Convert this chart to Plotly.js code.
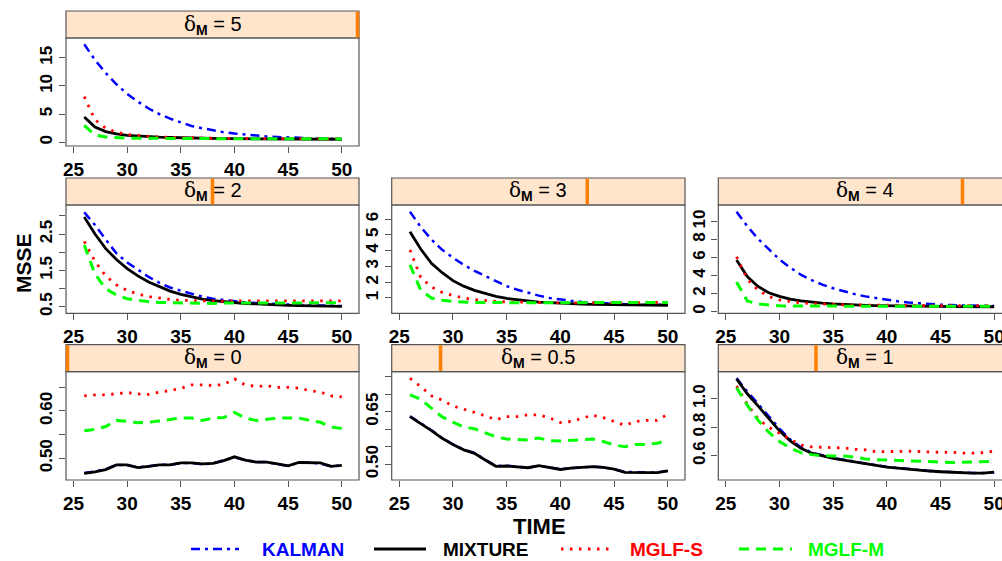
<!DOCTYPE html>
<html><head><meta charset="utf-8">
<script src="https://cdn.plot.ly/plotly-3.0.1.min.js"></script>
<style>html,body{margin:0;padding:0;background:#fff}#chart{width:1002px;height:561px}</style>
</head><body><div id="chart"></div>
<script>
// ---------------- DATA ----------------
const time = [26,27,28,29,30,31,32,33,34,35,36,37,38,39,40,41,42,43,44,45,46,47,48,49,50];
const seriesNames = ['KALMAN','MIXTURE','MGLF-S','MGLF-M'];
const panelLevels = ['5','2','3','4','0','0.5','1'];
const levelOrder = ['0','0.5','1','2','3','4','5'];
const xTickVals = [25,30,35,40,45,50];

// delta_M = 5
const kalman_d5  = [17.4,14.6,12.3,10.3,8.6,7.2,6.0,5.0,4.2,3.5,2.9,2.5,2.1,1.8,1.55,1.35,1.2,1.05,0.95,0.85,0.8,0.72,0.66,0.62,0.58];
const mixture_d5 = [4.5,2.7,1.9,1.5,1.25,1.1,1.0,0.92,0.86,0.8,0.76,0.72,0.69,0.66,0.64,0.62,0.6,0.59,0.58,0.57,0.56,0.56,0.55,0.55,0.55];
const mglfS_d5   = [8.1,4.0,2.5,1.8,1.4,1.2,1.05,0.95,0.88,0.82,0.78,0.75,0.72,0.7,0.68,0.67,0.66,0.65,0.65,0.64,0.64,0.63,0.63,0.63,0.63];
const mglfM_d5   = [3.0,1.3,0.95,0.82,0.76,0.72,0.7,0.68,0.67,0.66,0.65,0.65,0.64,0.64,0.63,0.63,0.63,0.62,0.62,0.62,0.62,0.61,0.61,0.61,0.61];
// delta_M = 2
const kalman_d2  = [3.10,2.75,2.35,1.97,1.72,1.52,1.32,1.16,1.03,0.94,0.85,0.78,0.72,0.68,0.65,0.62,0.60,0.58,0.57,0.56,0.55,0.54,0.53,0.52,0.52];
const mixture_d2 = [2.97,2.50,2.10,1.80,1.55,1.35,1.18,1.05,0.93,0.84,0.77,0.71,0.67,0.64,0.61,0.59,0.58,0.56,0.55,0.54,0.53,0.52,0.52,0.51,0.51];
const mglfS_d2   = [2.30,1.75,1.35,1.10,0.95,0.85,0.78,0.73,0.70,0.68,0.67,0.66,0.66,0.65,0.66,0.66,0.65,0.66,0.66,0.65,0.66,0.66,0.65,0.66,0.66];
const mglfM_d2   = [2.20,1.40,1.00,0.82,0.72,0.67,0.64,0.62,0.61,0.60,0.60,0.60,0.59,0.60,0.60,0.59,0.60,0.60,0.60,0.59,0.60,0.60,0.60,0.60,0.61];
// delta_M = 3
const kalman_d3  = [6.46,5.5,4.7,4.05,3.55,3.1,2.72,2.38,2.05,1.75,1.52,1.32,1.15,1.0,0.9,0.82,0.75,0.7,0.66,0.63,0.61,0.59,0.58,0.57,0.56];
const mixture_d3 = [5.2,4.1,3.2,2.6,2.1,1.75,1.48,1.27,1.1,0.97,0.88,0.8,0.74,0.7,0.66,0.63,0.61,0.59,0.58,0.57,0.56,0.55,0.55,0.54,0.54];
const mglfS_d3   = [4.04,2.3,1.7,1.35,1.15,1.0,0.9,0.83,0.78,0.75,0.73,0.71,0.7,0.7,0.69,0.69,0.69,0.7,0.69,0.7,0.7,0.69,0.7,0.71,0.72];
const mglfM_d3   = [3.1,1.5,1.0,0.85,0.78,0.74,0.72,0.71,0.7,0.7,0.7,0.69,0.7,0.7,0.7,0.71,0.7,0.7,0.71,0.7,0.71,0.71,0.72,0.72,0.72];
// delta_M = 4
const kalman_d4  = [11.1,9.5,8.1,6.9,5.8,4.9,4.1,3.5,3.0,2.6,2.25,1.95,1.7,1.5,1.3,1.15,1.02,0.92,0.84,0.78,0.73,0.69,0.66,0.64,0.62];
const mixture_d4 = [5.74,3.9,2.8,2.1,1.7,1.4,1.2,1.05,0.95,0.87,0.8,0.75,0.71,0.68,0.65,0.63,0.61,0.6,0.59,0.58,0.57,0.56,0.56,0.55,0.55];
const mglfS_d4   = [6.1,3.6,2.4,1.7,1.3,1.1,0.98,0.9,0.84,0.8,0.77,0.75,0.73,0.72,0.71,0.7,0.69,0.69,0.68,0.68,0.67,0.67,0.66,0.66,0.66];
const mglfM_d4   = [3.3,1.2,0.85,0.72,0.66,0.63,0.62,0.61,0.6,0.6,0.6,0.6,0.6,0.59,0.6,0.6,0.6,0.6,0.59,0.6,0.6,0.6,0.6,0.6,0.6];
// delta_M = 0
const kalman_d0  = [0.469,0.472,0.477,0.486,0.485,0.481,0.483,0.486,0.486,0.490,0.490,0.487,0.489,0.495,0.502,0.496,0.492,0.492,0.487,0.484,0.491,0.491,0.489,0.483,0.485];
const mixture_d0 = [0.468,0.471,0.476,0.486,0.486,0.480,0.483,0.486,0.486,0.490,0.490,0.488,0.489,0.495,0.503,0.496,0.492,0.492,0.488,0.484,0.491,0.491,0.490,0.483,0.485];
const mglfS_d0   = [0.632,0.634,0.634,0.637,0.639,0.636,0.635,0.640,0.643,0.648,0.655,0.655,0.654,0.656,0.668,0.655,0.652,0.653,0.650,0.650,0.648,0.643,0.640,0.632,0.630];
const mglfM_d0   = [0.558,0.561,0.567,0.580,0.578,0.575,0.576,0.579,0.581,0.585,0.585,0.580,0.585,0.586,0.597,0.585,0.580,0.583,0.585,0.585,0.585,0.580,0.576,0.566,0.563];
// delta_M = 0.5
const kalman_d05  = [0.637,0.618,0.597,0.575,0.557,0.542,0.532,0.513,0.495,0.496,0.493,0.490,0.496,0.491,0.486,0.489,0.492,0.493,0.491,0.486,0.478,0.477,0.476,0.476,0.481];
const mixture_d05 = [0.636,0.617,0.596,0.574,0.556,0.541,0.531,0.512,0.494,0.495,0.493,0.490,0.496,0.490,0.485,0.489,0.492,0.493,0.491,0.486,0.477,0.477,0.475,0.476,0.481];
const mglfS_d05   = [0.745,0.722,0.695,0.683,0.666,0.658,0.648,0.638,0.627,0.636,0.636,0.641,0.641,0.632,0.619,0.622,0.630,0.640,0.633,0.622,0.611,0.622,0.625,0.625,0.643];
const mglfM_d05   = [0.698,0.685,0.660,0.635,0.620,0.606,0.601,0.590,0.578,0.572,0.571,0.569,0.575,0.567,0.566,0.568,0.570,0.572,0.565,0.555,0.550,0.556,0.556,0.560,0.568];
// delta_M = 1
const kalman_d1  = [1.145,1.050,0.965,0.875,0.790,0.715,0.660,0.622,0.603,0.585,0.572,0.558,0.545,0.533,0.523,0.515,0.507,0.500,0.494,0.489,0.484,0.480,0.479,0.479,0.484];
const mixture_d1 = [1.140,1.035,0.950,0.860,0.775,0.705,0.652,0.618,0.600,0.582,0.570,0.557,0.542,0.530,0.521,0.513,0.505,0.499,0.493,0.488,0.483,0.479,0.478,0.478,0.485];
const mglfS_d1   = [1.090,0.960,0.860,0.800,0.757,0.715,0.675,0.662,0.660,0.658,0.655,0.645,0.642,0.628,0.630,0.630,0.632,0.630,0.625,0.624,0.625,0.619,0.619,0.622,0.632];
const mglfM_d1   = [1.077,0.955,0.850,0.765,0.700,0.655,0.622,0.608,0.600,0.600,0.598,0.590,0.578,0.573,0.570,0.567,0.564,0.561,0.558,0.554,0.553,0.554,0.555,0.558,0.560];

// labelled y ticks, their labels, and unlabelled y ticks per panel
const yTicks_d5 = [0,5,10,15];        const yLabels_d5 = ['0','5','10','15'];        const yMinor_d5 = [];
const yTicks_d2 = [0.5,1.5,2.5];      const yLabels_d2 = ['0.5','1.5','2.5'];        const yMinor_d2 = [1,2,3];
const yTicks_d3 = [1,2,3,4,5,6];      const yLabels_d3 = ['1','2','3','4','5','6'];  const yMinor_d3 = [];
const yTicks_d4 = [0,2,4,6,8,10];     const yLabels_d4 = ['0','2','4','6','8','10']; const yMinor_d4 = [];
const yTicks_d0 = [0.5,0.6];          const yLabels_d0 = ['0.50','0.60'];            const yMinor_d0 = [0.55,0.65];
const yTicks_d05 = [0.5,0.65];        const yLabels_d05 = ['0.50','0.65'];           const yMinor_d05 = [0.55,0.6,0.7,0.75];
const yTicks_d1 = [0.6,0.8,1.0];      const yLabels_d1 = ['0.6','0.8','1.0'];        const yMinor_d1 = [];

// ---------------- LAYOUT / STYLE ----------------
const W = 1002, H = 561;
const colPx = [[66,359],[391.7,685],[718.3,1011.3]];
const rowPx = [[38,146],[205,313.3],[371.7,480]];
const stripH = 27;
const xRange = [24.3, 51.6];

const panelData = {
  '5':   {row:0,col:0,yr:[-0.65,18.5], tv:yTicks_d5, tt:yLabels_d5, mv:yMinor_d5, s:[kalman_d5,mixture_d5,mglfS_d5,mglfM_d5]},
  '2':   {row:1,col:0,yr:[0.32,3.30],  tv:yTicks_d2, tt:yLabels_d2, mv:yMinor_d2, s:[kalman_d2,mixture_d2,mglfS_d2,mglfM_d2]},
  '3':   {row:1,col:1,yr:[0.03,6.89],  tv:yTicks_d3, tt:yLabels_d3, mv:yMinor_d3, s:[kalman_d3,mixture_d3,mglfS_d3,mglfM_d3]},
  '4':   {row:1,col:2,yr:[-0.18,11.85],tv:yTicks_d4, tt:yLabels_d4, mv:yMinor_d4, s:[kalman_d4,mixture_d4,mglfS_d4,mglfM_d4]},
  '0':   {row:2,col:0,yr:[0.454,0.683],tv:yTicks_d0, tt:yLabels_d0, mv:yMinor_d0, s:[kalman_d0,mixture_d0,mglfS_d0,mglfM_d0]},
  '0.5': {row:2,col:1,yr:[0.455,0.764],tv:yTicks_d05,tt:yLabels_d05, mv:yMinor_d05, s:[kalman_d05,mixture_d05,mglfS_d05,mglfM_d05]},
  '1':   {row:2,col:2,yr:[0.43,1.19],  tv:yTicks_d1, tt:yLabels_d1, mv:yMinor_d1, s:[kalman_d1,mixture_d1,mglfS_d1,mglfM_d1]}
};

const lineStyles = [
  {color:'#0000FF', dash:'9px,5px,3px,5px', width:2.5},
  {color:'#000000', dash:'solid', width:2.8},
  {color:'#FF0000', dash:'2.5px,6.5px', width:2.8},
  {color:'#00FF00', dash:'10px,7px', width:3}
];
// legend placement (pixels)
const legendY = 549;
const legendLineX = [[191,239],[374,426],[561,614],[739,792]];
const legendTextX = [260, 441, 628, 806];

const font = '"Liberation Sans", Arial, Helvetica, sans-serif';
const frameColor = '#555555';
const traces = [];
const layout = {
  width: W, height: H,
  margin: {l:0,r:0,t:0,b:0},
  paper_bgcolor: '#ffffff', plot_bgcolor: '#ffffff',
  showlegend: false,
  shapes: [], annotations: []
};

panelLevels.forEach((lev, i) => {
  const p = panelData[lev];
  const n = i + 1;
  const xa = 'xaxis' + (n === 1 ? '' : n), ya = 'yaxis' + (n === 1 ? '' : n);
  const xr = 'x' + (n === 1 ? '' : n), yr = 'y' + (n === 1 ? '' : n);
  const [cx0, cx1] = colPx[p.col];
  const [ry0, ry1] = rowPx[p.row];
  const visX1 = Math.min(cx1, W);
  const xScale = (cx1 - cx0) / (xRange[1] - xRange[0]);
  const xRightVal = xRange[0] + (visX1 - cx0) / xScale;
  layout[xa] = {
    domain:[cx0/W, visX1/W], range:[xRange[0], xRightVal], anchor:yr,
    tickmode:'array', tickvals:xTickVals, ticktext:xTickVals.map(String),
    ticks:'outside', ticklen:6, tickwidth:1, tickcolor:frameColor, ticklabeloverflow:'allow',
    showline:false, showgrid:false, zeroline:false,
    tickfont:{family:font, size:19, weight:'bold', color:'#000'}
  };
  const yax = {
    domain:[1 - ry1/H, 1 - ry0/H], range:p.yr, anchor:xr,
    tickmode:'array', tickvals:p.tv, ticktext:p.tt, tickangle:-90,
    ticks:'outside', ticklen:6, tickwidth:1, tickcolor:frameColor, ticklabeloverflow:'allow',
    showline:false, showgrid:false, zeroline:false,
    tickfont:{family:font, size:17, weight:'bold', color:'#000'}
  };
  if (p.mv.length) {
    yax.minor = {tickmode:'array', tickvals:p.mv, ticks:'outside', ticklen:6, tickwidth:1, tickcolor:frameColor, showgrid:false};
  }
  layout[ya] = yax;
  // panel frame
  layout.shapes.push({type:'rect', xref:'paper', yref:'paper', x0:cx0/W, x1:cx1/W,
    y0:1-ry1/H, y1:1-ry0/H, line:{color:frameColor, width:1.2}, fillcolor:'rgba(0,0,0,0)', layer:'above'});
  // strip
  layout.shapes.push({type:'rect', xref:'paper', yref:'paper', x0:cx0/W, x1:cx1/W,
    y0:1-ry0/H, y1:1-(ry0-stripH)/H, line:{color:frameColor, width:1.2}, fillcolor:'#FFE5CC', layer:'below'});
  const frac = levelOrder.indexOf(lev) / (levelOrder.length - 1);
  const bx = cx0 + frac * (cx1 - cx0) + (frac === 0 ? 1.5 : (frac === 1 ? -1.5 : 0));
  layout.shapes.push({type:'line', xref:'paper', yref:'paper', x0:bx/W, x1:bx/W,
    y0:1-(ry0-0.6)/H, y1:1-(ry0-stripH+0.6)/H, line:{color:'#FF7F00', width:3.5}});
  layout.annotations.push({xref:'paper', yref:'paper', x:((cx0+cx1)/2)/W, y:1-(ry0-stripH/2)/H,
    xanchor:'center', yanchor:'middle', showarrow:false,
    text:'<span style="font-family:DejaVu Serif">δ</span><sub><b>M</b></sub> = ' + lev,
    font:{family:font, size:20, color:'#000'}});
  p.s.forEach((vals, k) => {
    traces.push({x:time, y:vals, xaxis:xr, yaxis:yr, type:'scatter', mode:'lines',
      name:seriesNames[k], showlegend:false,
      line:{color:lineStyles[k].color, dash:lineStyles[k].dash, width:lineStyles[k].width}, hoverinfo:'skip'});
  });
});

// legend key (drawn below the panels)
seriesNames.forEach((nm, k) => {
  layout.shapes.push({type:'line', xref:'paper', yref:'paper',
    x0:legendLineX[k][0]/W, x1:legendLineX[k][1]/W, y0:1-legendY/H, y1:1-legendY/H,
    line:{color:lineStyles[k].color, dash:lineStyles[k].dash, width:lineStyles[k].width}});
  layout.annotations.push({xref:'paper', yref:'paper', x:legendTextX[k]/W, y:1-legendY/H,
    xanchor:'left', yanchor:'middle', showarrow:false, text:'<b>' + nm + '</b>',
    font:{family:font, size:19, color:lineStyles[k].color}});
});

layout.annotations.push({xref:'paper', yref:'paper', x:539/W, y:1-526/H, showarrow:false,
  text:'<b>TIME</b>', font:{family:font, size:22, color:'#000'}, xanchor:'center', yanchor:'middle'});
layout.annotations.push({xref:'paper', yref:'paper', x:23/W, y:1-263/H, showarrow:false, textangle:-90,
  text:'<b>MSSE</b>', font:{family:font, size:21, color:'#000'}, xanchor:'center', yanchor:'middle'});

Plotly.newPlot('chart', traces, layout, {staticPlot:true, displayModeBar:false});
</script>
</body></html>
